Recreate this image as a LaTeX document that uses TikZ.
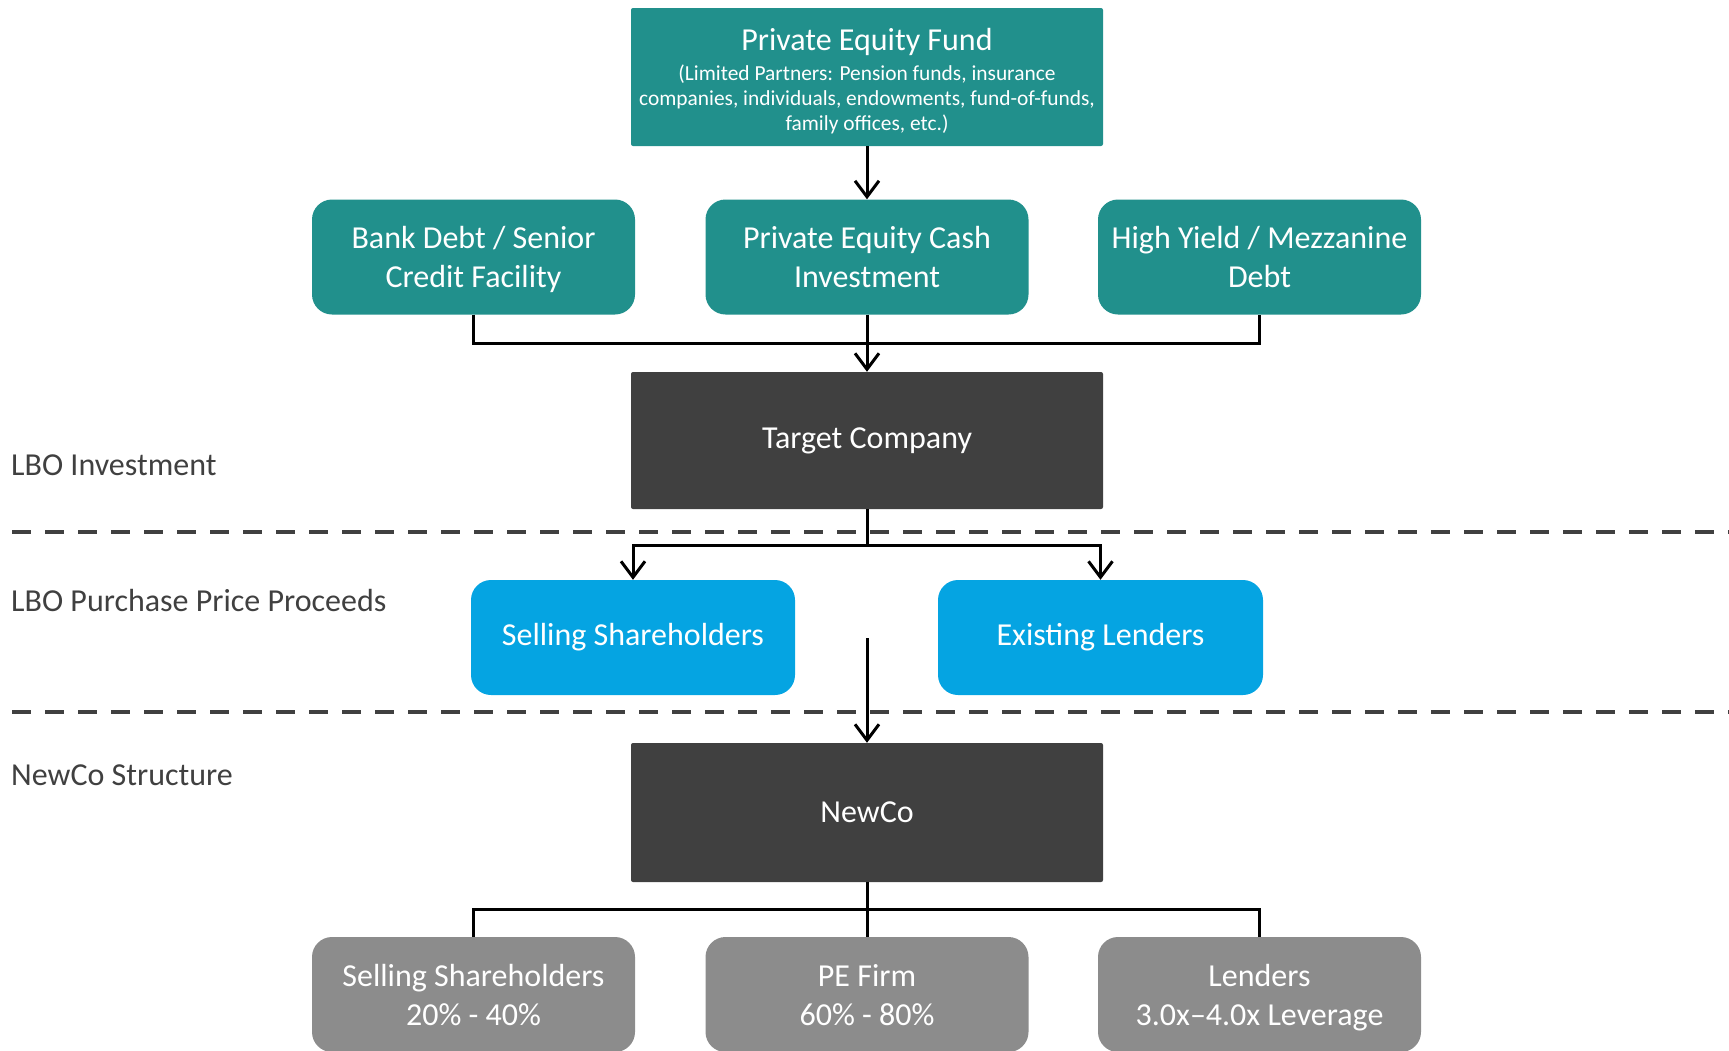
\documentclass[tikz,border=0pt]{standalone}
\usepackage{fontspec}
\setmainfont{Carlito}
\usetikzlibrary{arrows.meta}
\definecolor{teal1}{HTML}{21908C}
\definecolor{blue1}{HTML}{05A4E2}
\definecolor{dark1}{HTML}{404040}
\definecolor{gray1}{HTML}{8C8C8C}
\newcommand{\smallfnt}{\fontsize{21.4}{25}\selectfont}
\newcommand{\midstrut}{\rule{0pt}{34pt}}
\newcommand{\botstrut}{\rule{0pt}{35pt}}
\tikzset{
  base/.style={inner sep=0pt, align=center, text=white, font=\fontsize{32}{39}\selectfont},
  squarebox/.style={base, minimum width=472pt, rounded corners=2pt},
  roundbox/.style={base, minimum width=323pt, minimum height=115pt, rounded corners=20pt},
  conn/.style={line width=3pt, black},
  arr/.style={conn, -{Straight Barb[length=16pt,width=24pt,line width=3pt]}},
  dashline/.style={line width=4pt, dark1, dash pattern=on 19pt off 14pt},
  sidelabel/.style={anchor=base west, inner sep=0pt, text=dark1, font=\fontsize{32}{39}\selectfont}
}
\begin{document}
\begin{tikzpicture}[x=1pt,y=-1pt]
\useasboundingbox (0,0) rectangle (1729,1050);
\clip (0,0) rectangle (1729,1050);
% dashed separators
\draw[dashline] (12,532) -- (1729,532);
\draw[dashline] (12,712) -- (1729,712);
% side labels
\node[sidelabel] (l1) at (11,475) {LBO Investment};
\node[sidelabel] (l2) at (11,611) {LBO Purchase Price Proceeds};
\node[sidelabel] (l3) at (11,785) {NewCo Structure};
% top
\node[squarebox, fill=teal1, minimum height=138pt] (pef) at (867,77)
  {\rule{0pt}{30pt}Private Equity Fund\\[-9pt]
   \smallfnt (Limited Partners: Pension funds, insurance\\[-14pt]
   \smallfnt companies, individuals, endowments, fund-of-funds,\\[-14pt]
   \smallfnt family offices, etc.)};
% middle row
\node[roundbox, fill=teal1] (bank) at (473.5,257) {\midstrut Bank Debt / Senior\\\strut Credit Facility};
\node[roundbox, fill=teal1] (pec) at (867,257) {\midstrut Private Equity Cash\\\strut Investment};
\node[roundbox, fill=teal1] (hy) at (1259.5,257) {\midstrut High Yield / Mezzanine\\\strut Debt};
% target
\node[squarebox, fill=dark1, minimum height=137pt] (target) at (867,440.5) {Target Company};
% blue
\node[roundbox, fill=blue1, minimum width=324pt] (sell) at (633,637.5) {Selling Shareholders};
\node[roundbox, fill=blue1, minimum width=325pt] (exist) at (1100.5,637.5) {Existing Lenders};
% newco
\node[squarebox, fill=dark1, minimum height=139pt] (newco) at (867,812.5) {NewCo};
% bottom row
\node[roundbox, fill=gray1] (ssb) at (473.5,994.5) {\botstrut Selling Shareholders\\\strut 20\% - 40\%};
\node[roundbox, fill=gray1] (peb) at (867,994.5) {\botstrut PE Firm\\\strut 60\% - 80\%};
\node[roundbox, fill=gray1] (lb) at (1259.5,994.5) {\botstrut Lenders\\\strut 3.0x–4.0x Leverage};
% connectors
\draw[arr] (pef.south) -- (pec.north);
\coordinate (j1) at (867,343);
\draw[conn] (bank.south) |- (j1) -| (hy.south);
\draw[arr] (pec.south) -- (target.north);
\coordinate (j2) at (867,545);
\draw[conn] (target.south) -- (j2);
\draw[arr] (j2) -| (sell.north);
\draw[arr] (j2) -| (exist.north);
\coordinate (s2) at (867,638);
\draw[arr] (s2) -- (newco.north);
\coordinate (j3) at (867,909);
\draw[conn] (newco.south) -- (j3);
\draw[conn] (j3) -| (ssb.north);
\draw[conn] (j3) -| (lb.north);
\draw[conn] (j3) -- (peb.north);
\end{tikzpicture}
\end{document}
